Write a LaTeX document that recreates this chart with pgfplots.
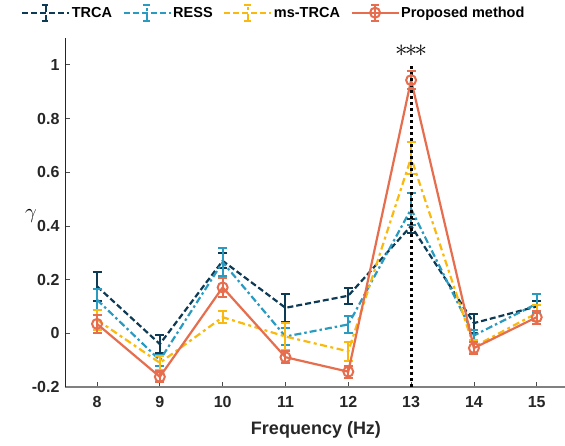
\documentclass[border=0pt]{standalone}
\usepackage{pgfplots}
\usepackage{pgfplotstable}
\pgfplotsset{compat=1.18}
\usepackage{fontspec}
\setmainfont{Liberation Sans}
\definecolor{cTRCA}{HTML}{0D3B55}
\definecolor{cRESS}{HTML}{2A9BC0}
\definecolor{cMS}{HTML}{F9B90F}
\definecolor{cPM}{HTML}{E66E4E}

\pgfplotstableread{
x y e
8 0.175 0.053
9 -0.040 0.035
10 0.270 0.028
11 0.095 0.053
12 0.140 0.030
13 0.400 0.025
14 0.038 0.035
15 0.100 0.020
}\trca
\pgfplotstableread{
x y e
8 0.125 0.040
9 -0.100 0.020
10 0.265 0.052
11 -0.012 0.030
12 0.033 0.030
13 0.463 0.060
14 -0.008 0.020
15 0.110 0.035
}\ress
\pgfplotstableread{
x y e
8 0.050 0.036
9 -0.110 0.025
10 0.060 0.022
11 -0.012 0.050
12 -0.067 0.035
13 0.654 0.060
14 -0.050 0.025
15 0.075 0.030
}\mstrca
\pgfplotstableread{
x y e
8 0.035 0.033
9 -0.162 0.020
10 0.171 0.035
11 -0.089 0.022
12 -0.143 0.022
13 0.943 0.033
14 -0.055 0.022
15 0.060 0.024
}\prop

\begin{document}
\begin{tikzpicture}
\begin{axis}[
  scale only axis, width=500pt, height=349pt,
  xmin=7.49, xmax=15.45, ymin=-0.2, ymax=1.1,
  axis lines=left, axis line style={-},
  x axis line style={draw=black!50, line width=1.3pt},
  y axis line style={draw=black!85, line width=0.8pt},
  xtick={8,9,10,11,12,13,14,15}, xticklabels={8,9,10,11,12,13,14,15},
  ytick={-0.2,0,0.2,0.4,0.6,0.8,1}, yticklabels={-0.2,0,0.2,0.4,0.6,0.8,1},
  tick align=inside, major tick length=5pt,
  tick style={black!70, line width=0.8pt},
  ticklabel style={font=\bfseries\fontsize{16}{18}\selectfont, text=black!85},
  xticklabel style={yshift=-6pt},
  yticklabel style={xshift=-2pt},
  xlabel={Frequency (Hz)},
  xlabel style={font=\bfseries\fontsize{18}{20}\selectfont, text=black!85, at={(axis description cs:0.502,-0.123)}, anchor=center},
  ylabel={$\gamma$},
  ylabel style={font=\fontsize{20}{22}\selectfont, rotate=-90, at={(axis description cs:-0.068,0.49)}, anchor=center},
  clip=false,
  legend style={at={(axis description cs:0.417,1.0725)}, anchor=center, draw=none, fill=none,
    font=\bfseries\fontsize{14.5}{16}\selectfont, /tikz/every even column/.append style={column sep=9pt},
    nodes={inner sep=1.5pt}},
  legend columns=4,
  legend cell align=left,
]
\addplot[cTRCA, line width=2.2pt, dash pattern=on 6pt off 3pt, mark=none,
  error bars/.cd, y dir=both, y explicit,
  error bar style={solid, line width=2pt, cTRCA},
  error mark options={rotate=90, mark size=4.5pt, line width=2pt, solid, cTRCA},
  /pgfplots/legend image code/.code={
    \draw[cTRCA, line width=2.2pt, dash pattern=on 6pt off 3pt] (0pt,0pt) -- (47pt,0pt);
    \draw[cTRCA, line width=2pt] (23.5pt,-8pt) -- (23.5pt,8pt) (19.5pt,-8pt) -- (27.5pt,-8pt) (19.5pt,8pt) -- (27.5pt,8pt);}
  ] table[x=x, y=y, y error=e] {\trca};
\addlegendentry{TRCA}
\addplot[cRESS, line width=2.2pt, dash pattern=on 7pt off 3pt on 2.5pt off 3pt, mark=none,
  error bars/.cd, y dir=both, y explicit,
  error bar style={solid, line width=2pt, cRESS},
  error mark options={rotate=90, mark size=4.5pt, line width=2pt, solid, cRESS},
  /pgfplots/legend image code/.code={
    \draw[cRESS, line width=2.2pt, dash pattern=on 6pt off 3pt] (0pt,0pt) -- (47pt,0pt);
    \draw[cRESS, line width=2pt] (23.5pt,-8pt) -- (23.5pt,8pt) (19.5pt,-8pt) -- (27.5pt,-8pt) (19.5pt,8pt) -- (27.5pt,8pt);}
  ] table[x=x, y=y, y error=e] {\ress};
\addlegendentry{RESS}
\addplot[cMS, line width=2.2pt, dash pattern=on 7pt off 3.5pt on 3pt off 3.5pt, mark=none,
  error bars/.cd, y dir=both, y explicit,
  error bar style={solid, line width=2pt, cMS},
  error mark options={rotate=90, mark size=4.5pt, line width=2pt, solid, cMS},
  /pgfplots/legend image code/.code={
    \draw[cMS, line width=2.2pt, dash pattern=on 6pt off 3pt] (0pt,0pt) -- (47pt,0pt);
    \draw[cMS, line width=2pt] (23.5pt,-8pt) -- (23.5pt,8pt) (19.5pt,-8pt) -- (27.5pt,-8pt) (19.5pt,8pt) -- (27.5pt,8pt);}
  ] table[x=x, y=y, y error=e] {\mstrca};
\addlegendentry{ms-TRCA}
\addplot[cPM, line width=2.2pt, solid, mark=o, mark size=5pt, mark options={solid, line width=2pt},
  error bars/.cd, y dir=both, y explicit,
  error bar style={solid, line width=2pt, cPM},
  error mark options={rotate=90, mark size=4.5pt, line width=2pt, solid, cPM},
  /pgfplots/legend image code/.code={
    \draw[cPM, line width=2.2pt] (0pt,0pt) -- (47pt,0pt);
    \draw[cPM, line width=2pt] (23.5pt,-8pt) -- (23.5pt,8pt) (19.5pt,-8pt) -- (27.5pt,-8pt) (19.5pt,8pt) -- (27.5pt,8pt);
    \draw[cPM, line width=2pt] (23.5pt,0pt) circle (5pt);}
  ] table[x=x, y=y, y error=e] {\prop};
\addlegendentry{Proposed method}
\addplot[black, line width=3pt, dash pattern=on 3pt off 3pt, forget plot] coordinates {(13,-0.2) (13,1)};
\node[text=black, font=\fontsize{27}{27}\selectfont, inner sep=0pt] at (axis cs:13,1.052) {${\ast}\mkern-2mu{\ast}\mkern-2mu{\ast}$};
\end{axis}
\pgfresetboundingbox
\path (-65pt,-58pt) rectangle (500pt,387pt);
\end{tikzpicture}
\end{document}
